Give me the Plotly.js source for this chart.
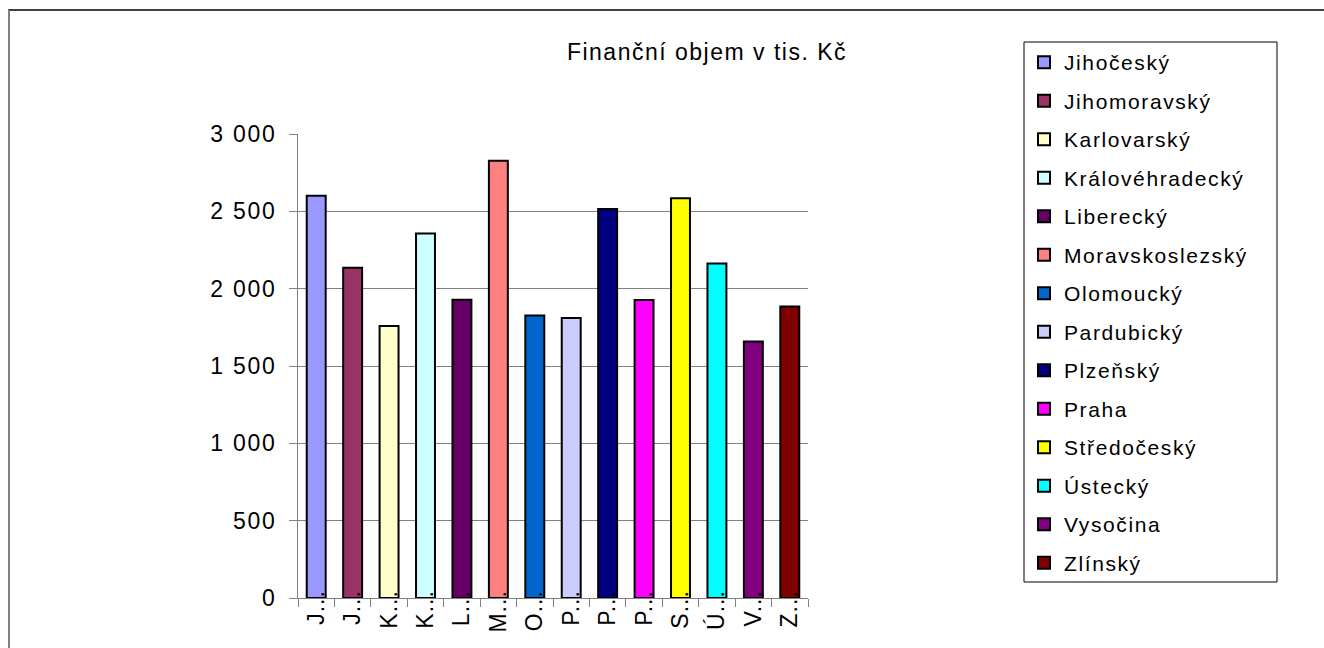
<!DOCTYPE html>
<html><head><meta charset="utf-8">
<script src="https://cdn.plot.ly/plotly-3.0.1.min.js"></script>
<style>
html,body{margin:0;padding:0;background:#fff;overflow:hidden;}
#chart{position:absolute;left:0;top:0;width:1324px;height:648px;}
#frame{position:absolute;left:8px;top:9px;width:1330px;height:660px;border-top:2px solid #404040;border-left:2px solid #808080;pointer-events:none;}
.legendtext{letter-spacing:1.6px;}
.gtitle{letter-spacing:1.5px;}
.ytick text{letter-spacing:1.7px;}
.xtick text{letter-spacing:1px;}
</style></head><body>
<div id="chart"></div><div id="frame"></div>
<script>
const regions = ['Jihočeský','Jihomoravský','Karlovarský','Královéhradecký','Liberecký','Moravskoslezský','Olomoucký','Pardubický','Plzeňský','Praha','Středočeský','Ústecký','Vysočina','Zlínský'];
const shortLabels = ['J...','J...','K...','K...','L...','M...','O...','P...','P...','P...','S...','Ú...','V...','Z...'];
const values = [2600,2135,1758,2357,1928,2827,1827,1810,2515,1926,2584,2163,1659,1885];
const colors = ['#9999FF','#993366','#FFFFCC','#CCFFFF','#660066','#FF8080','#0066CC','#CCCCFF','#000080','#FF00FF','#FFFF00','#00FFFF','#800080','#800000'];
const yTickVals = [0,500,1000,1500,2000,2500,3000];
const yTickText = ['0','500','1 000','1 500','2 000','2 500','3 000'];
const chartTitle = 'Finanční objem v tis. Kč';

const traces = regions.map((r,i)=>({
  type:'bar', x:[r], y:[values[i]], name:r, legendgroup:r,
  marker:{color:colors[i], line:{color:'#000', width:2}},
  hoverinfo:'skip'
}));

const PW = 510, PH = 464, PL = 298, PB = 598;
const layout = {
  width:1324, height:648,
  margin:{l:298, r:516, t:134, b:50},
  paper_bgcolor:'#fff', plot_bgcolor:'#fff',
  font:{family:'Liberation Sans, Arial, sans-serif', size:23, color:'#000'},
  showlegend:true, barmode:'overlay', bargap:0.48,
  title:{text:chartTitle, font:{size:23}, xref:'container', x:707/1324, xanchor:'center', yref:'container', y:1-52/648, yanchor:'middle'},
  xaxis:{type:'category', tickmode:'array', tickvals:regions, ticktext:shortLabels, tickangle:-90,
    tickson:'boundaries', ticks:'outside', ticklen:8, tickcolor:'#808080', showline:true, linecolor:'#808080', linewidth:1,
    showgrid:false, range:[-0.5,13.5], ticklabelstandoff:-18, fixedrange:true},
  yaxis:{range:[0,3000], tickmode:'array', tickvals:yTickVals, ticktext:yTickText, ticks:'outside', ticklen:8,
    tickcolor:'#808080', showline:true, linecolor:'#808080', linewidth:1, showgrid:true, gridcolor:'#808080', gridwidth:1,
    zeroline:false, ticklabelstandoff:8, fixedrange:true},
  shapes:[{type:'rect', xref:'paper', yref:'paper', layer:'below',
    x0:(1024-PL)/PW, x1:(1277-PL)/PW, y0:(PB-582)/PH, y1:(PB-42)/PH,
    line:{color:'#000', width:1}, fillcolor:'rgba(0,0,0,0)'}],
  legend:{x:(1024-PL)/PW, xanchor:'left', y:(PB-42)/PH, yanchor:'top', borderwidth:0,
    bgcolor:'rgba(0,0,0,0)', font:{size:21}, tracegroupgap:8.2, maxheight:640,
    itemclick:false, itemdoubleclick:false}
};
Plotly.newPlot('chart', traces, layout, {displayModeBar:false, staticPlot:true});
</script></body></html>
